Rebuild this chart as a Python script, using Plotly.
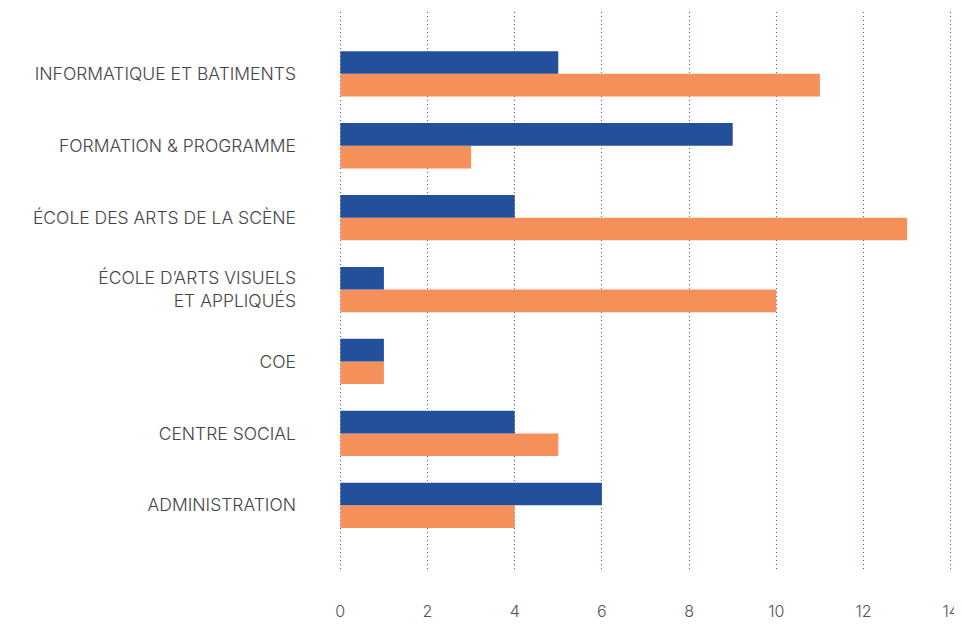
import plotly.graph_objects as go

categories = [
    "ADMINISTRATION",
    "CENTRE SOCIAL",
    "COE",
    "ÉCOLE D’ARTS VISUELS<br>ET APPLIQUÉS",
    "ÉCOLE DES ARTS DE LA SCÈNE",
    "FORMATION & PROGRAMME",
    "INFORMATIQUE ET BATIMENTS",
]
blue_values = [6, 4, 1, 1, 4, 9, 5]
orange_values = [4, 5, 1, 10, 13, 3, 11]
x_ticks = [0, 2, 4, 6, 8, 10, 12, 14]

fig = go.Figure()
fig.add_trace(go.Bar(y=categories, x=orange_values, orientation="h",
                     marker=dict(color="#f5905a", line=dict(width=0)), name="B"))
fig.add_trace(go.Bar(y=categories, x=blue_values, orientation="h",
                     marker=dict(color="#234f9b", line=dict(width=0)), name="A"))

fig.update_layout(
    width=954, height=617,
    barmode="group", bargap=0.37, bargroupgap=0,
    showlegend=False,
    plot_bgcolor="white", paper_bgcolor="white",
    margin=dict(l=331, r=10, t=4, b=55),
    font=dict(family="Inter", color="#444444", weight=300),
    xaxis=dict(range=[-0.03, 14.03], tickvals=x_ticks, showgrid=True,
               gridcolor="#3a5fb0", griddash="1px,3px", gridwidth=1,
               zeroline=False, showline=False, ticks="", automargin=False,
               tickfont=dict(family="Inter", size=16, color="#555555", weight=300),
               ticklabelstandoff=30),
    yaxis=dict(range=[-0.9, 6.86], showgrid=False, zeroline=False,
               showline=False, ticks="", automargin=False,
               tickfont=dict(family="Inter", size=17.5, color="#444444", weight=300),
               ticklabelstandoff=42),
)

fig.write_html("out.html")
